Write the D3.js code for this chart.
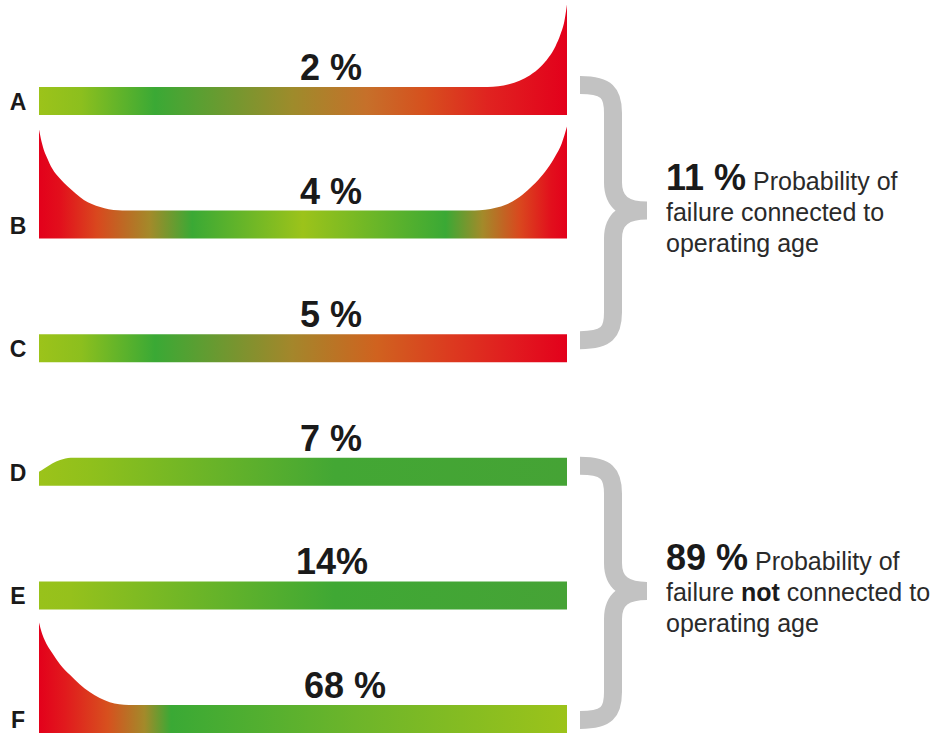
<!DOCTYPE html>
<html>
<head>
<meta charset="utf-8">
<script src="https://cdn.jsdelivr.net/npm/d3@7"></script>
<style>
  html, body { margin: 0; padding: 0; background: #ffffff; }
  svg { display: block; }
  text { font-family: "Liberation Sans", Arial, Helvetica, sans-serif; }
</style>
</head>
<body>
<svg id="chart" width="940" height="733"></svg>
<script>
// ---------------- DATA ----------------
const patterns = ["A", "B", "C", "D", "E", "F"];
const shares = ["2 %", "4 %", "5 %", "7 %", "14%", "68 %"];
// conditional failure probability profile (age 0..100, relative hazard; 1 = flat level)
const profileA = [[0,1],[85,1],[87,1.03],[89,1.1],[91,1.22],[93,1.42],[95,1.72],[96.5,2.05],[97.8,2.45],[98.8,2.9],[99.5,3.35],[100,3.95]];
const profileB = [[0,3.9],[0.5,3.45],[1,3.12],[1.5,2.9],[2.5,2.5],[4,2.14],[5.5,1.85],[7,1.6],[8.5,1.38],[10,1.24],[11.6,1.13],[13.2,1.05],[15,1.01],[16.5,1],
                  [82.5,1],[84.5,1.03],[86.5,1.1],[88.5,1.22],[90.5,1.42],[92.5,1.72],[94.5,2.08],[96.3,2.5],[97.8,2.95],[99,3.4],[100,4.0]];
const profileC = [[0,1],[100,1]];
const profileD = [[0,0.5],[1,0.62],[2.5,0.8],[4,0.92],[6,1],[100,1]];
const profileE = [[0,1],[100,1]];
const profileF = [[0,3.95],[0.5,3.6],[1,3.35],[2.5,2.86],[4,2.45],[5.9,2.07],[7.7,1.74],[9.6,1.46],[11.5,1.25],[13.4,1.1],[15.2,1.03],[17,1],[100,1]];
const profiles = [profileA, profileB, profileC, profileD, profileE, profileF];
// colour along operating age (offset 0..1)
const stopsA = [[0,"#9cc31a"],[0.08,"#8cbf1e"],[0.22,"#3aa935"],[0.48,"#9e8b2b"],[0.62,"#c6702a"],[0.73,"#d6501e"],[0.85,"#e02320"],[1,"#e3001b"]];
const stopsB = [[0,"#e3001b"],[0.04,"#e20f1c"],[0.11,"#d9481e"],[0.21,"#a38a2a"],[0.29,"#3aa935"],[0.5,"#9cc31a"],[0.77,"#3aa935"],[0.84,"#a38a2a"],[0.91,"#d9481e"],[0.97,"#e20f1c"],[1,"#e3001b"]];
const stopsC = [[0,"#9cc31a"],[0.08,"#8cbf1e"],[0.22,"#3aa935"],[0.48,"#a4862b"],[0.64,"#d0621f"],[0.78,"#dc3a1f"],[0.9,"#e11a1f"],[1,"#e3001b"]];
const stopsD = [[0,"#9cc31a"],[0.1,"#8fc01c"],[0.56,"#43a734"],[1,"#45a335"]];
const stopsE = [[0,"#98c21b"],[0.06,"#95c11c"],[0.56,"#3fa834"],[1,"#46a336"]];
const stopsF = [[0,"#e3001b"],[0.05,"#e11a1d"],[0.13,"#d7501e"],[0.2,"#a38a2a"],[0.25,"#3aa935"],[0.6,"#6db52a"],[1,"#9cc31a"]];
const stops = [stopsA, stopsB, stopsC, stopsD, stopsE, stopsF];
// groups
const groupTitles = ["11 %", "89 %"];
const groupLines = [
  [[" Probability of"], ["failure connected to"], ["operating age"]],
  [[" Probability of"], ["failure ", "not", " connected to"], ["operating age"]]
];
const groupMembers = [["A", "C"], ["D", "F"]];

// ---------------- SCALES ----------------
const svg = d3.select("#chart");
const x = d3.scaleLinear().domain([0, 100]).range([39, 567]);
const yRow = d3.scalePoint().domain(patterns).range([101, 719]);
const barH = 28;
const h = d3.scaleLinear().domain([0, 4]).range([0, 4 * barH]);
const braceTopOffset = [-16, -6];
const braceBotOffset = [-8, 1];

const defs = svg.append("defs");
patterns.forEach((p, i) => {
  const g = defs.append("linearGradient")
    .attr("id", "grad" + p)
    .attr("gradientUnits", "userSpaceOnUse")
    .attr("x1", x(0)).attr("x2", x(100)).attr("y1", 0).attr("y2", 0);
  g.selectAll("stop").data(stops[i]).join("stop")
    .attr("offset", d => d[0])
    .attr("stop-color", d => d[1]);
});

// ---------------- SHAPES ----------------
patterns.forEach((p, i) => {
  const bottom = yRow(p) + barH / 2;
  const area = d3.area()
    .x(d => x(d[0]))
    .y0(bottom)
    .y1(d => bottom - h(d[1]))
    .curve(d3.curveMonotoneX);
  svg.append("path")
    .datum(profiles[i])
    .attr("d", area)
    .attr("fill", "url(#grad" + p + ")");

  svg.append("text")
    .attr("x", 18).attr("y", yRow(p) + 9)
    .attr("text-anchor", "middle")
    .attr("font-size", 23).attr("font-weight", "bold")
    .attr("fill", "#1a1a1a")
    .text(p);

  svg.append("text")
    .attr("x", i === 5 ? 345 : (i === 4 ? 332 : 331))
    .attr("y", yRow(p) - barH / 2 - 7)
    .attr("text-anchor", "middle")
    .attr("font-size", 36).attr("font-weight", "bold")
    .attr("fill", "#1a1a1a")
    .text(shares[i]);
});

// ---------------- BRACES ----------------
function bracePath(xl, yTop, yTip, yBot, xv, xTip) {
  const p = d3.path();
  p.moveTo(xl, yTop);
  p.bezierCurveTo(xv - 6, yTop, xv, yTop + 8, xv, yTop + 28);
  p.lineTo(xv, yTip - 28);
  p.bezierCurveTo(xv, yTip - 8, xv + 12, yTip, xTip, yTip);
  p.moveTo(xTip, yTip);
  p.bezierCurveTo(xv + 12, yTip, xv, yTip + 8, xv, yTip + 28);
  p.lineTo(xv, yBot - 28);
  p.bezierCurveTo(xv, yBot - 8, xv - 6, yBot, xl, yBot);
  return p.toString();
}

groupMembers.forEach((m, gi) => {
  const yTop = yRow(m[0]) + braceTopOffset[gi];
  const yBot = yRow(m[1]) + braceBotOffset[gi];
  const yTip = (yTop + yBot) / 2 - 2;
  svg.append("path")
    .attr("d", bracePath(580, yTop, yTip, yBot, 613, 647))
    .attr("fill", "none")
    .attr("stroke", "#c2c2c2")
    .attr("stroke-width", 18);

  const tx = 666;
  const ty = yTip - 21;
  const t = svg.append("text").attr("x", tx).attr("y", ty).attr("fill", "#1f1f1f");
  t.append("tspan").attr("font-size", 36).attr("font-weight", "bold").attr("fill", "#1a1a1a").text(groupTitles[gi]);
  groupLines[gi].forEach((line, li) => {
    const lt = li === 0 ? t : svg.append("text").attr("x", tx).attr("y", ty + li * 31).attr("fill", "#1f1f1f");
    line.forEach(seg => {
      lt.append("tspan")
        .attr("font-size", 25)
        .attr("font-weight", seg === "not" ? "bold" : "normal")
        .attr("fill", seg === "not" ? "#1a1a1a" : "#2a2a2a")
        .style("white-space", "pre")
        .text(seg);
    });
  });
});
</script>
</body>
</html>
